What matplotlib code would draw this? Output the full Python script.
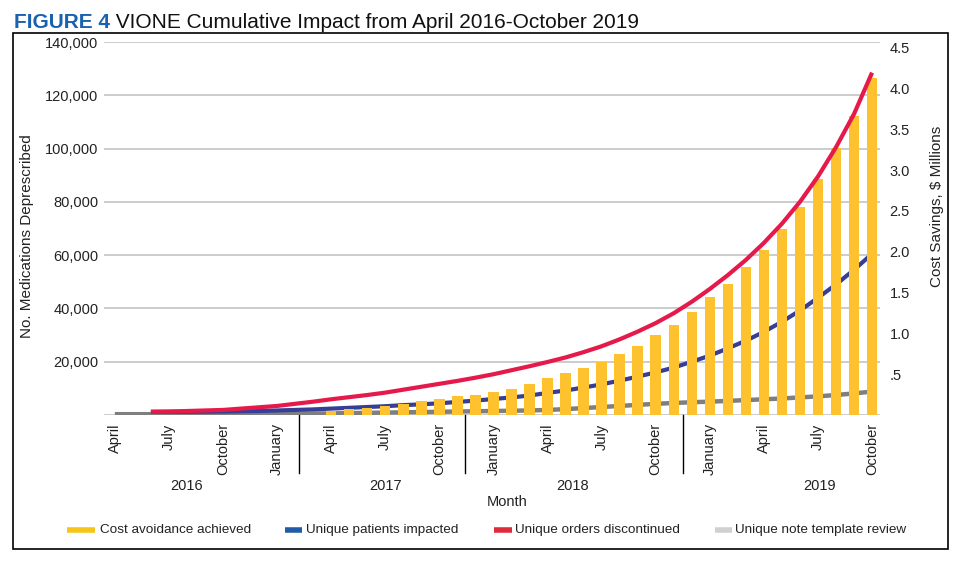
import numpy as np
import matplotlib
matplotlib.use("Agg")
import matplotlib.pyplot as plt
from matplotlib.lines import Line2D
from matplotlib.patches import Rectangle
import matplotlib.transforms as mtransforms

plt.rcParams['font.family'] = ['Liberation Sans', 'DejaVu Sans']

# month index 0 = April 2016 ... 42 = October 2019
tick_labels = ["April", "July", "October", "January"] * 3 + ["April", "July", "October"]
years = ["2016", "2017", "2018", "2019"]

# Unique note template review (months 0..42)
note_review = [300, 300, 300, 300, 300, 350, 350, 400, 400, 450,
               500, 550, 600, 700, 800, 900, 1000, 1100, 1200, 1300,
               1400, 1500, 1600, 1700, 1900, 2200, 2600, 3000, 3400, 3800,
               4200, 4500, 4800, 5000, 5300, 5600, 5900, 6200, 6600, 7000,
               7500, 8100, 8800]

# Unique patients impacted (months 2..42)
patients = [1200, 1200, 1200, 1250, 1300, 1400, 1500, 1700, 1900, 2100,
            2400, 2700, 3000, 3300, 3700, 4000, 4400, 4900, 5400, 6000,
            6600, 7300, 8300, 9200, 10300, 11500, 12900, 14400, 16000, 17800,
            20000, 22300, 25000, 27900, 31200, 35000, 39200, 44000, 49000, 54500,
            60500]

# Unique orders discontinued (months 2..42)
orders = [1200, 1300, 1500, 1700, 1900, 2400, 2900, 3400, 4200, 5000,
          5900, 6700, 7500, 8400, 9500, 10600, 11700, 12800, 14000, 15300,
          16800, 18300, 19900, 21600, 23600, 25800, 28400, 31300, 34500, 38200,
          42500, 47300, 52500, 58200, 64600, 71800, 80000, 89500, 100500, 113000,
          128500]

# Cost avoidance achieved, $ millions (months 12..42)
cost = [0.05, 0.07, 0.08, 0.11, 0.14, 0.175, 0.19, 0.23, 0.245, 0.28,
        0.32, 0.38, 0.45, 0.51, 0.58, 0.65, 0.75, 0.84, 0.98, 1.10,
        1.26, 1.45, 1.61, 1.81, 2.02, 2.28, 2.55, 2.89, 3.27, 3.66,
        4.13]

W, H = 958, 561
fig = plt.figure(figsize=(W / 100, H / 100), dpi=100)

def fx(px):
    return px / W

def fy(py):
    return 1 - py / H

ax_l, ax_r, ax_t, ax_b = 104, 880, 42, 415
ax = fig.add_axes([fx(ax_l), fy(ax_b), fx(ax_r - ax_l), (ax_b - ax_t) / H])
ax2 = ax.twinx()

x_note = np.arange(len(note_review))
x_pat = np.arange(2, 2 + len(patients))
x_ord = np.arange(2, 2 + len(orders))
x_cost = np.arange(12, 12 + len(cost))

ax.plot(x_note, note_review, color='#7f7f7f', lw=3.2, solid_capstyle='butt', zorder=3)
ax.plot(x_pat, patients, color='#363f98', lw=3.0, solid_capstyle='butt', zorder=4)

ax2.bar(x_cost, cost, width=0.58, color='#fdc22e', zorder=2)
ax2.plot(x_ord, orders, color='#e6194b', lw=3.0, solid_capstyle='butt',
         transform=ax.transData, zorder=5)

ax.set_xlim(-0.6, 42.44)
ax.set_ylim(0, 140000)
ax2.set_ylim(0, 4.57)

yt = np.arange(0, 140001, 20000)
ax.set_yticks(yt)
ax.set_yticklabels([''] + [f"{v:,}" for v in yt[1:]])
ax.yaxis.grid(True, color='#c8c8c8', lw=1.3)
ax.set_axisbelow(True)

rt = [0.5, 1.0, 1.5, 2.0, 2.5, 3.0, 3.5, 4.0, 4.5]
ax2.set_yticks(rt)
ax2.set_yticklabels(['.5'] + [f"{v:.1f}" for v in rt[1:]])

ax.set_xticks(np.arange(0, 43, 3))
ax.set_xticklabels(tick_labels, rotation=90, va='top', ha='center')

for a in (ax, ax2):
    for s in a.spines.values():
        s.set_visible(False)
ax.tick_params(axis='both', length=0, labelsize=10.5, colors='#222222')
ax.tick_params(axis='y', pad=4)
ax.tick_params(axis='x', pad=6)
ax2.tick_params(axis='y', length=0, labelsize=10.5, pad=7, colors='#222222')

ax.set_ylabel("No. Medications Deprescribed", fontsize=11, color='#222222')
ax.yaxis.set_label_coords((34 - ax_l) / (ax_r - ax_l), 0.48)
ax2.set_ylabel("Cost Savings, $ Millions", fontsize=11, color='#222222')
ax2.yaxis.set_label_coords((930 - ax_l) / (ax_r - ax_l), 0.56)

# year separators and year labels below the month labels
trans = mtransforms.blended_transform_factory(ax.transData, ax.transAxes)
for xs in [10.2, 19.4, 31.5]:
    ax.add_line(Line2D([xs, xs], [0, -58 / (ax_b - ax_t)], transform=trans,
                       color='black', lw=1, clip_on=False))
for xy, yr in zip([3.96, 15.0, 25.4, 39.1], years):
    ax.text(xy, -71 / (ax_b - ax_t), yr, transform=trans, ha='center', va='center',
            fontsize=10.5, color='#222222')
fig.text(fx(507), fy(502), "Month", ha='center', va='center', fontsize=10.5, color='#222222')

# legend
leg = [("Cost avoidance achieved", '#f5c518', 67, 95, 100),
       ("Unique patients impacted", '#1f5ba7', 285, 302, 306),
       ("Unique orders discontinued", '#e02b3c', 494, 512, 515),
       ("Unique note template review", '#d0d0d0', 715, 732, 735)]
for label, c, x0, x1, xt in leg:
    fig.add_artist(Line2D([fx(x0), fx(x1)], [fy(530), fy(530)], color=c, lw=4,
                          solid_capstyle='butt', transform=fig.transFigure))
    fig.text(fx(xt), fy(530), label, ha='left', va='center', fontsize=9.7, color='#222222')

# outer box
fig.add_artist(Rectangle((fx(13), fy(549)), fx(948 - 13), (549 - 33) / H, fill=False,
                         edgecolor='black', lw=1.2, transform=fig.transFigure))

# title
t1 = fig.text(fx(14), fy(28), "FIGURE 4", fontsize=15, fontweight='bold',
              color='#1a62b0', ha='left', va='baseline')
ax.annotate(" VIONE Cumulative Impact from April 2016-October 2019", xy=(1, 0),
            xycoords=t1, ha='left', va='bottom', fontsize=15, color='#111111',
            annotation_clip=False)

fig.savefig("out.png", dpi=100)
